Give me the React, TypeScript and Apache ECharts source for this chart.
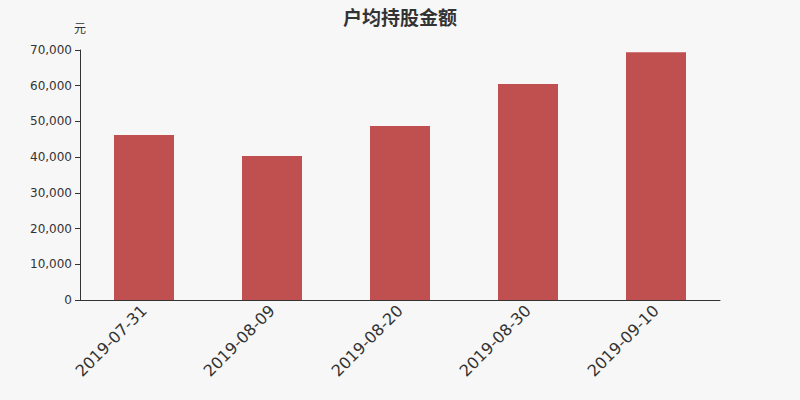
import React, { useEffect, useRef } from 'react';
import * as echarts from 'echarts';

const dates = ['2019-07-31', '2019-08-09', '2019-08-20', '2019-08-30', '2019-09-10'];
const amounts = [46200, 40300, 48700, 60500, 69400];

export default function App() {
  const chartRef = useRef<HTMLDivElement>(null);

  useEffect(() => {
    if (!chartRef.current) return;
    const chart = echarts.init(chartRef.current, null, { renderer: 'svg' });

    const option: echarts.EChartsOption = {
      animation: false,
      backgroundColor: '#f7f7f7',
      textStyle: { fontFamily: '"DejaVu Sans", "Noto Sans CJK SC", sans-serif' },
      title: {
        text: '户均持股金额',
        left: 'center',
        top: 3,
        textStyle: { fontSize: 19, fontWeight: 'bold', color: '#333' },
      },
      grid: { left: 80, right: 80, top: 50, bottom: 100 },
      xAxis: {
        type: 'category',
        data: dates,
        axisLine: { lineStyle: { color: '#333' } },
        axisTick: { lineStyle: { color: '#333' } },
        axisLabel: { rotate: 45, fontSize: 16, color: '#333', margin: 8 },
      },
      yAxis: {
        type: 'value',
        name: '元',
        nameGap: 15,
        nameTextStyle: { fontSize: 12, color: '#333' },
        min: 0,
        max: 70000,
        interval: 10000,
        splitLine: { show: false },
        axisLine: { show: true, lineStyle: { color: '#333' } },
        axisTick: { show: true, lineStyle: { color: '#333' } },
        axisLabel: { fontSize: 12, color: '#333' },
      },
      series: [
        {
          type: 'bar',
          data: amounts,
          barWidth: 60,
          itemStyle: { color: '#c0504f' },
        },
      ],
    };

    chart.setOption(option);
    return () => chart.dispose();
  }, []);

  return (
    <div
      ref={chartRef}
      style={{ position: 'fixed', left: 0, top: 0, width: 800, height: 400 }}
    />
  );
}
